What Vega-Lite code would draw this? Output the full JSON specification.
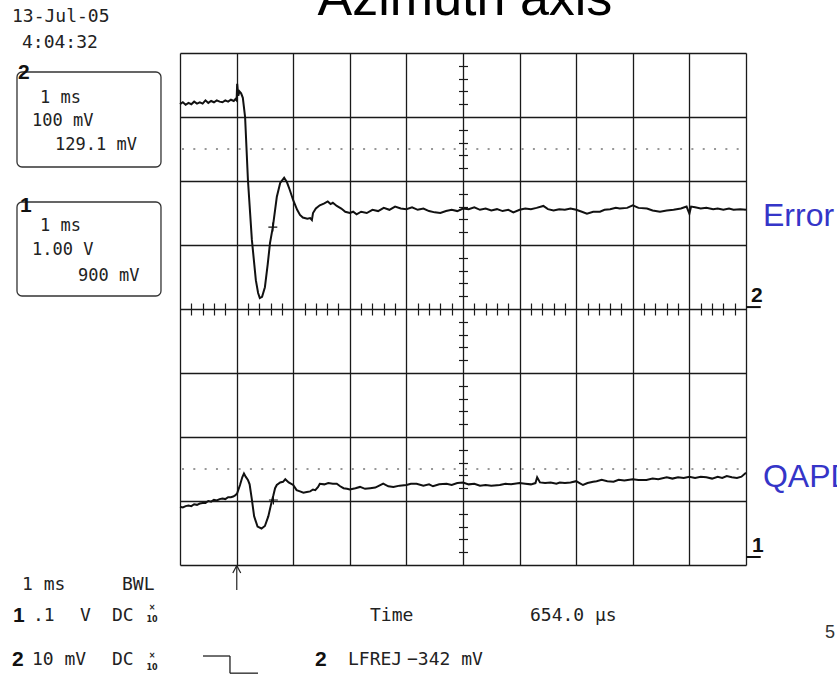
{
  "$schema": "https://vega.github.io/schema/vega-lite/v6.json",
  "width": 566,
  "height": 512,
  "autosize": "none",
  "padding": {"left": 180, "top": 53, "right": 91, "bottom": 111},
  "background": "white",
  "config": {"view": {"stroke": null}},
  "resolve": {"axis": {"x": "independent", "y": "independent"}},
  "datasets": {
    "one": [{}],
    "error": [
      {"t":0,"v":7.20},{"t":0.05,"v":7.23},{"t":0.1,"v":7.19},{"t":0.15,"v":7.22},{"t":0.2,"v":7.20},{"t":0.25,"v":7.24},{"t":0.3,"v":7.21},{"t":0.35,"v":7.23},{"t":0.4,"v":7.21},{"t":0.45,"v":7.26},{"t":0.5,"v":7.22},{"t":0.55,"v":7.25},{"t":0.6,"v":7.23},{"t":0.65,"v":7.26},{"t":0.7,"v":7.24},{"t":0.75,"v":7.23},{"t":0.8,"v":7.26},{"t":0.85,"v":7.24},{"t":0.9,"v":7.27},{"t":0.95,"v":7.25},{"t":0.98,"v":7.28},{"t":1.0,"v":7.26},{"t":1.01,"v":7.52},{"t":1.03,"v":7.33},{"t":1.05,"v":7.40},{"t":1.08,"v":7.37},{"t":1.11,"v":7.30},{"t":1.15,"v":7.0},{"t":1.2,"v":6.02},{"t":1.27,"v":5.08},{"t":1.34,"v":4.45},{"t":1.38,"v":4.25},{"t":1.41,"v":4.17},{"t":1.45,"v":4.19},{"t":1.5,"v":4.34},{"t":1.55,"v":4.70},{"t":1.59,"v":5.03},{"t":1.64,"v":5.28},{"t":1.71,"v":5.75},{"t":1.77,"v":5.97},{"t":1.84,"v":6.05},{"t":1.89,"v":5.98},{"t":1.94,"v":5.86},{"t":2.0,"v":5.70},{"t":2.07,"v":5.55},{"t":2.12,"v":5.47},{"t":2.17,"v":5.43},{"t":2.25,"v":5.41},{"t":2.3,"v":5.42},{"t":2.33,"v":5.39},{"t":2.35,"v":5.50},{"t":2.4,"v":5.57},{"t":2.47,"v":5.62},{"t":2.55,"v":5.65},{"t":2.61,"v":5.68},{"t":2.66,"v":5.64},{"t":2.7,"v":5.66},{"t":2.77,"v":5.61},{"t":2.85,"v":5.57},{"t":2.92,"v":5.52},{"t":3.0,"v":5.50},{"t":3.06,"v":5.52},{"t":3.12,"v":5.48},{"t":3.2,"v":5.52},{"t":3.3,"v":5.50},{"t":3.4,"v":5.55},{"t":3.5,"v":5.53},{"t":3.6,"v":5.58},{"t":3.7,"v":5.55},{"t":3.8,"v":5.60},{"t":3.9,"v":5.57},{"t":4.0,"v":5.56},{"t":4.1,"v":5.59},{"t":4.2,"v":5.55},{"t":4.3,"v":5.57},{"t":4.4,"v":5.53},{"t":4.5,"v":5.51},{"t":4.6,"v":5.50},{"t":4.7,"v":5.53},{"t":4.8,"v":5.55},{"t":4.9,"v":5.53},{"t":5.0,"v":5.57},{"t":5.1,"v":5.56},{"t":5.2,"v":5.59},{"t":5.3,"v":5.55},{"t":5.4,"v":5.57},{"t":5.5,"v":5.54},{"t":5.6,"v":5.56},{"t":5.7,"v":5.53},{"t":5.8,"v":5.55},{"t":5.89,"v":5.51},{"t":6.0,"v":5.55},{"t":6.1,"v":5.57},{"t":6.2,"v":5.56},{"t":6.3,"v":5.58},{"t":6.42,"v":5.61},{"t":6.5,"v":5.56},{"t":6.6,"v":5.54},{"t":6.7,"v":5.56},{"t":6.8,"v":5.55},{"t":6.9,"v":5.57},{"t":7.0,"v":5.55},{"t":7.1,"v":5.52},{"t":7.19,"v":5.49},{"t":7.3,"v":5.52},{"t":7.42,"v":5.52},{"t":7.5,"v":5.55},{"t":7.6,"v":5.56},{"t":7.7,"v":5.58},{"t":7.77,"v":5.57},{"t":7.9,"v":5.58},{"t":8.0,"v":5.62},{"t":8.1,"v":5.58},{"t":8.25,"v":5.57},{"t":8.35,"v":5.54},{"t":8.48,"v":5.52},{"t":8.6,"v":5.54},{"t":8.72,"v":5.55},{"t":8.85,"v":5.57},{"t":8.95,"v":5.60},{"t":9.0,"v":5.49},{"t":9.03,"v":5.60},{"t":9.1,"v":5.59},{"t":9.2,"v":5.57},{"t":9.3,"v":5.58},{"t":9.42,"v":5.56},{"t":9.5,"v":5.57},{"t":9.6,"v":5.55},{"t":9.7,"v":5.57},{"t":9.78,"v":5.55},{"t":9.9,"v":5.56},{"t":10.0,"v":5.55}
    ],
    "qapd": [
      {"t":0,"v":0.91},{"t":0.05,"v":0.90},{"t":0.1,"v":0.92},{"t":0.15,"v":0.93},{"t":0.2,"v":0.92},{"t":0.25,"v":0.95},{"t":0.3,"v":0.94},{"t":0.35,"v":0.96},{"t":0.4,"v":0.97},{"t":0.45,"v":0.97},{"t":0.5,"v":1.0},{"t":0.55,"v":0.99},{"t":0.6,"v":1.02},{"t":0.65,"v":1.01},{"t":0.7,"v":1.03},{"t":0.75,"v":1.04},{"t":0.8,"v":1.03},{"t":0.85,"v":1.06},{"t":0.9,"v":1.06},{"t":0.94,"v":1.07},{"t":0.98,"v":1.09},{"t":1.01,"v":1.12},{"t":1.06,"v":1.25},{"t":1.1,"v":1.37},{"t":1.13,"v":1.43},{"t":1.16,"v":1.38},{"t":1.2,"v":1.33},{"t":1.23,"v":1.26},{"t":1.27,"v":1.02},{"t":1.31,"v":0.76},{"t":1.37,"v":0.60},{"t":1.44,"v":0.57},{"t":1.5,"v":0.61},{"t":1.56,"v":0.76},{"t":1.62,"v":0.99},{"t":1.65,"v":1.09},{"t":1.68,"v":1.2},{"t":1.71,"v":1.25},{"t":1.77,"v":1.29},{"t":1.82,"v":1.30},{"t":1.86,"v":1.34},{"t":1.92,"v":1.29},{"t":2.0,"v":1.25},{"t":2.06,"v":1.17},{"t":2.12,"v":1.15},{"t":2.18,"v":1.13},{"t":2.24,"v":1.14},{"t":2.3,"v":1.15},{"t":2.35,"v":1.18},{"t":2.39,"v":1.17},{"t":2.44,"v":1.22},{"t":2.47,"v":1.27},{"t":2.55,"v":1.26},{"t":2.62,"v":1.28},{"t":2.7,"v":1.27},{"t":2.77,"v":1.27},{"t":2.83,"v":1.23},{"t":2.89,"v":1.20},{"t":2.95,"v":1.19},{"t":3.0,"v":1.18},{"t":3.1,"v":1.20},{"t":3.18,"v":1.22},{"t":3.27,"v":1.19},{"t":3.36,"v":1.20},{"t":3.45,"v":1.21},{"t":3.52,"v":1.24},{"t":3.59,"v":1.27},{"t":3.68,"v":1.23},{"t":3.77,"v":1.22},{"t":3.88,"v":1.24},{"t":4.0,"v":1.25},{"t":4.08,"v":1.27},{"t":4.18,"v":1.27},{"t":4.3,"v":1.24},{"t":4.4,"v":1.26},{"t":4.47,"v":1.23},{"t":4.58,"v":1.26},{"t":4.71,"v":1.27},{"t":4.8,"v":1.25},{"t":4.9,"v":1.28},{"t":5.0,"v":1.29},{"t":5.1,"v":1.26},{"t":5.2,"v":1.27},{"t":5.3,"v":1.24},{"t":5.4,"v":1.25},{"t":5.5,"v":1.24},{"t":5.65,"v":1.25},{"t":5.75,"v":1.27},{"t":5.85,"v":1.26},{"t":6.0,"v":1.28},{"t":6.1,"v":1.27},{"t":6.2,"v":1.26},{"t":6.28,"v":1.28},{"t":6.31,"v":1.37},{"t":6.36,"v":1.29},{"t":6.45,"v":1.28},{"t":6.55,"v":1.29},{"t":6.65,"v":1.27},{"t":6.71,"v":1.29},{"t":6.8,"v":1.28},{"t":6.9,"v":1.29},{"t":7.0,"v":1.31},{"t":7.06,"v":1.28},{"t":7.12,"v":1.25},{"t":7.2,"v":1.28},{"t":7.3,"v":1.30},{"t":7.36,"v":1.31},{"t":7.45,"v":1.33},{"t":7.55,"v":1.31},{"t":7.66,"v":1.30},{"t":7.75,"v":1.33},{"t":7.85,"v":1.32},{"t":8.0,"v":1.34},{"t":8.1,"v":1.33},{"t":8.24,"v":1.33},{"t":8.35,"v":1.35},{"t":8.45,"v":1.34},{"t":8.6,"v":1.37},{"t":8.7,"v":1.35},{"t":8.8,"v":1.37},{"t":8.9,"v":1.36},{"t":9.0,"v":1.38},{"t":9.1,"v":1.36},{"t":9.2,"v":1.38},{"t":9.3,"v":1.37},{"t":9.4,"v":1.35},{"t":9.5,"v":1.38},{"t":9.58,"v":1.36},{"t":9.66,"v":1.39},{"t":9.75,"v":1.37},{"t":9.84,"v":1.36},{"t":9.92,"v":1.38},{"t":10.0,"v":1.44}
    ],
    "cursors": [{"t":1.64,"v":5.28},{"t":1.65,"v":1.016}],
    "mono": [
      {"txt":"13-Jul-05","t":-2.968,"v":8.5625},
      {"txt":"4:04:32","t":-2.792,"v":8.164},
      {"txt":"1 ms","t":-2.792,"v":-0.3125},
      {"txt":"BWL","t":-1.025,"v":-0.3125},
      {"txt":".1","t":-2.597,"v":-0.797},
      {"txt":"V","t":-1.767,"v":-0.797},
      {"txt":"DC","t":-1.201,"v":-0.797},
      {"txt":"Time","t":3.357,"v":-0.797},
      {"txt":"654.0 µs","t":6.184,"v":-0.797},
      {"txt":"10 mV","t":-2.615,"v":-1.484},
      {"txt":"DC","t":-1.201,"v":-1.484},
      {"txt":"LFREJ","t":2.968,"v":-1.484},
      {"txt":"−342 mV","t":4.011,"v":-1.484}
    ],
    "boxtxt": [
      {"txt":"1 ms","t":-2.473,"v":7.297},
      {"txt":"100 mV","t":-2.615,"v":6.9375},
      {"txt":"129.1 mV","t":-2.208,"v":6.5625},
      {"txt":"1 ms","t":-2.473,"v":5.297},
      {"txt":"1.00 V","t":-2.615,"v":4.922},
      {"txt":"900 mV","t":-1.802,"v":4.516}
    ],
    "bold": [
      {"txt":"2","t":-2.862,"v":7.6875},
      {"txt":"1","t":-2.827,"v":5.61},
      {"txt":"1","t":-2.95,"v":-0.797},
      {"txt":"2","t":-2.968,"v":-1.484},
      {"txt":"2","t":2.385,"v":-1.484},
      {"txt":"2","t":10.088,"v":4.21},
      {"txt":"1","t":10.106,"v":0.3}
    ],
    "small": [
      {"txt":"×","t":-0.495,"v":-0.675},
      {"txt":"10","t":-0.495,"v":-0.86},
      {"txt":"×","t":-0.495,"v":-1.425},
      {"txt":"10","t":-0.495,"v":-1.61}
    ],
    "blue": [
      {"txt":"Error","t":10.3,"v":5.46},
      {"txt":"QAPD","t":10.3,"v":1.375}
    ]
  },
  "layer": [
    {
      "data": {"name": "error"},
      "mark": {"type": "line", "color": "#111", "strokeWidth": 2, "interpolate": "linear"},
      "encoding": {
        "x": {"field": "t", "type": "quantitative", "scale": {"domain": [0, 10], "nice": false, "zero": false},
              "axis": {"orient": "bottom", "values": [0,1,2,3,4,5,6,7,8,9,10], "grid": true, "gridColor": "#1a1a1a", "gridWidth": 1.3, "gridOpacity": 1, "labels": false, "ticks": false, "domain": false, "title": null}},
        "y": {"field": "v", "type": "quantitative", "scale": {"domain": [0, 8], "nice": false, "zero": false},
              "axis": {"orient": "left", "values": [0,1,2,3,4,5,6,7,8], "grid": true, "gridColor": "#1a1a1a", "gridWidth": 1.3, "gridOpacity": 1, "labels": false, "ticks": false, "domain": false, "title": null}}
      }
    },
    {
      "data": {"name": "qapd"},
      "mark": {"type": "line", "color": "#111", "strokeWidth": 2, "interpolate": "linear"},
      "encoding": {
        "x": {"field": "t", "type": "quantitative",
              "axis": {"orient": "bottom", "offset": -262, "values": [0.2,0.4,0.6,0.8,1.2,1.4,1.6,1.8,2.2,2.4,2.6,2.8,3.2,3.4,3.6,3.8,4.2,4.4,4.6,4.8,5.2,5.4,5.6,5.8,6.2,6.4,6.6,6.8,7.2,7.4,7.6,7.8,8.2,8.4,8.6,8.8,9.2,9.4,9.6,9.8], "grid": false, "labels": false, "ticks": true, "tickSize": 12, "tickColor": "#1a1a1a", "tickWidth": 1.2, "domain": false, "title": null}},
        "y": {"field": "v", "type": "quantitative",
              "axis": {"orient": "left", "offset": -287.5, "values": [0.2,0.4,0.6,0.8,1.2,1.4,1.6,1.8,2.2,2.4,2.6,2.8,3.2,3.4,3.6,3.8,4.2,4.4,4.6,4.8,5.2,5.4,5.6,5.8,6.2,6.4,6.6,6.8,7.2,7.4,7.6,7.8], "grid": false, "labels": false, "ticks": true, "tickSize": 9, "tickColor": "#1a1a1a", "tickWidth": 1.2, "domain": false, "title": null}}
      }
    },
    {
      "data": {"name": "one"},
      "mark": {"type": "rule", "color": "#333", "strokeWidth": 1, "strokeDash": [2, 9.32], "strokeDashOffset": -2},
      "encoding": {"x": {"datum": 0, "axis": null}, "x2": {"datum": 9.87}, "y": {"datum": 6.5, "axis": null}}
    },
    {
      "data": {"name": "one"},
      "mark": {"type": "rule", "color": "#333", "strokeWidth": 1, "strokeDash": [2, 9.32], "strokeDashOffset": -2},
      "encoding": {"x": {"datum": 0, "axis": null}, "x2": {"datum": 9.87}, "y": {"datum": 1.5, "axis": null}}
    },
    {
      "data": {"name": "cursors"},
      "mark": {"type": "point", "shape": "M-1,0H1M0,-1V1", "size": 80, "filled": false, "stroke": "#111", "strokeWidth": 1.2, "opacity": 1},
      "encoding": {"x": {"field": "t", "type": "quantitative", "axis": null}, "y": {"field": "v", "type": "quantitative", "axis": null}}
    },
    {
      "data": {"name": "one"},
      "mark": {"type": "rect", "filled": false, "stroke": "#333", "strokeWidth": 1.3, "cornerRadius": 5},
      "encoding": {"x": {"datum": -2.88, "axis": null}, "x2": {"datum": -0.336}, "y": {"datum": 7.703, "axis": null}, "y2": {"datum": 6.219}}
    },
    {
      "data": {"name": "one"},
      "mark": {"type": "rect", "filled": false, "stroke": "#333", "strokeWidth": 1.3, "cornerRadius": 5},
      "encoding": {"x": {"datum": -2.88, "axis": null}, "x2": {"datum": -0.336}, "y": {"datum": 5.672, "axis": null}, "y2": {"datum": 4.203}}
    },
    {
      "data": {"name": "one"},
      "mark": {"type": "rule", "color": "#222", "strokeWidth": 1.3},
      "encoding": {"x": {"datum": 0.406, "axis": null}, "x2": {"datum": 0.883}, "y": {"datum": -1.422, "axis": null}}
    },
    {
      "data": {"name": "one"},
      "mark": {"type": "rule", "color": "#222", "strokeWidth": 1.3},
      "encoding": {"x": {"datum": 0.883, "axis": null}, "y": {"datum": -1.422, "axis": null}, "y2": {"datum": -1.69}}
    },
    {
      "data": {"name": "one"},
      "mark": {"type": "rule", "color": "#222", "strokeWidth": 1.3},
      "encoding": {"x": {"datum": 0.883, "axis": null}, "x2": {"datum": 1.378}, "y": {"datum": -1.69, "axis": null}}
    },
    {
      "data": {"name": "one"},
      "mark": {"type": "rule", "color": "#222", "strokeWidth": 1.2},
      "encoding": {"x": {"datum": 1.003, "axis": null}, "y": {"datum": -0.01, "axis": null}, "y2": {"datum": -0.39}}
    },
    {
      "data": {"name": "one"},
      "mark": {"type": "rule", "color": "#222", "strokeWidth": 1.2},
      "encoding": {"x": {"datum": 0.933, "axis": null}, "x2": {"datum": 1.003}, "y": {"datum": -0.125, "axis": null}, "y2": {"datum": -0.01}}
    },
    {
      "data": {"name": "one"},
      "mark": {"type": "rule", "color": "#222", "strokeWidth": 1.2},
      "encoding": {"x": {"datum": 1.073, "axis": null}, "x2": {"datum": 1.003}, "y": {"datum": -0.125, "axis": null}, "y2": {"datum": -0.01}}
    },
    {
      "data": {"name": "one"},
      "mark": {"type": "rule", "color": "#111", "strokeWidth": 2},
      "encoding": {"x": {"datum": 10, "axis": null}, "x2": {"datum": 10.26}, "y": {"datum": 4.03, "axis": null}}
    },
    {
      "data": {"name": "one"},
      "mark": {"type": "rule", "color": "#111", "strokeWidth": 2},
      "encoding": {"x": {"datum": 10, "axis": null}, "x2": {"datum": 10.26}, "y": {"datum": 0.125, "axis": null}}
    },
    {
      "data": {"name": "mono"},
      "mark": {"type": "text", "font": "DejaVu Sans Mono", "fontSize": 18, "align": "left", "baseline": "middle", "color": "#222"},
      "encoding": {"x": {"field": "t", "type": "quantitative", "axis": null}, "y": {"field": "v", "type": "quantitative", "axis": null}, "text": {"field": "txt"}}
    },
    {
      "data": {"name": "boxtxt"},
      "mark": {"type": "text", "font": "DejaVu Sans Mono", "fontSize": 17, "align": "left", "baseline": "middle", "color": "#222"},
      "encoding": {"x": {"field": "t", "type": "quantitative", "axis": null}, "y": {"field": "v", "type": "quantitative", "axis": null}, "text": {"field": "txt"}}
    },
    {
      "data": {"name": "bold"},
      "mark": {"type": "text", "font": "Liberation Sans", "fontSize": 21, "fontWeight": "bold", "align": "left", "baseline": "middle", "color": "#111"},
      "encoding": {"x": {"field": "t", "type": "quantitative", "axis": null}, "y": {"field": "v", "type": "quantitative", "axis": null}, "text": {"field": "txt"}}
    },
    {
      "data": {"name": "small"},
      "mark": {"type": "text", "font": "DejaVu Sans", "fontSize": 8, "fontWeight": "bold", "align": "center", "baseline": "middle", "color": "#222"},
      "encoding": {"x": {"field": "t", "type": "quantitative", "axis": null}, "y": {"field": "v", "type": "quantitative", "axis": null}, "text": {"field": "txt"}}
    },
    {
      "data": {"name": "blue"},
      "mark": {"type": "text", "font": "Liberation Sans", "fontSize": 32, "align": "left", "baseline": "middle", "color": "#3535C8"},
      "encoding": {"x": {"field": "t", "type": "quantitative", "axis": null}, "y": {"field": "v", "type": "quantitative", "axis": null}, "text": {"field": "txt"}}
    },
    {
      "data": {"name": "one"},
      "mark": {"type": "text", "font": "Liberation Sans", "fontSize": 18, "align": "left", "baseline": "middle", "color": "#333"},
      "encoding": {"x": {"datum": 11.396, "axis": null}, "y": {"datum": -1.0625, "axis": null}, "text": {"value": "5"}}
    },
    {
      "data": {"name": "one"},
      "mark": {"type": "text", "font": "Liberation Sans", "fontSize": 52, "align": "center", "baseline": "alphabetic", "color": "#000"},
      "encoding": {"x": {"datum": 5.035, "axis": null}, "y": {"datum": 8.594, "axis": null}, "text": {"value": "Azimuth axis"}}
    }
  ]
}
